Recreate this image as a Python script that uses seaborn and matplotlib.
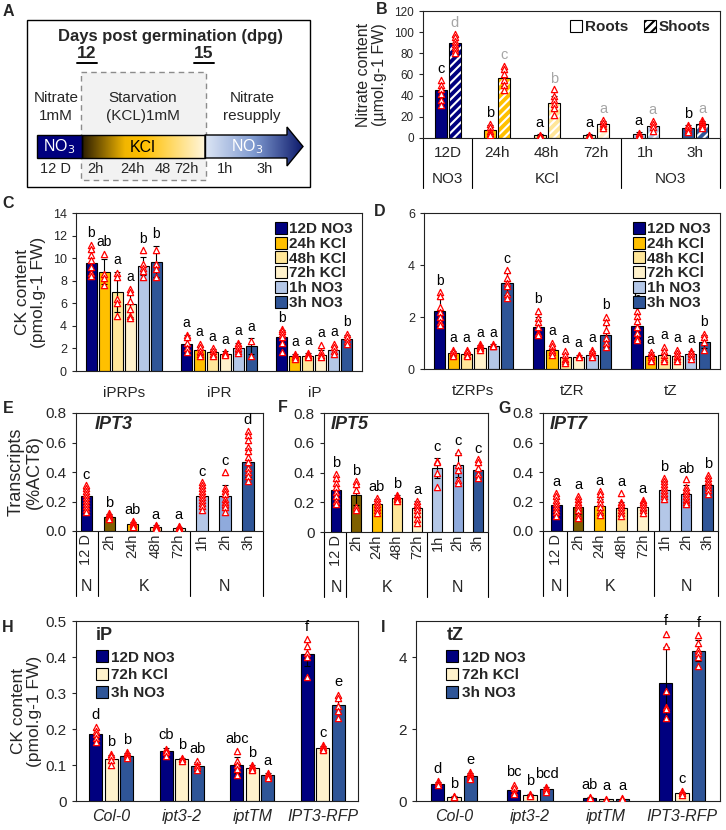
import numpy as np
import pandas as pd
import matplotlib
matplotlib.use('Agg')
import matplotlib.pyplot as plt
import seaborn as sns
from matplotlib.patches import Rectangle, Polygon, Patch
from matplotlib.lines import Line2D
from matplotlib.colors import LinearSegmentedColormap

# condition colours
NAVY = '#00007f'
OLIVE = '#7f6000'
GOLD = '#ffc000'
LYELLOW = '#ffe699'
CREAM = '#fff2cc'
LBLUE = '#b4c7e7'
MBLUE = '#8faadc'
BLUE = '#2f5597'

# ---- A: experimental design
a_title = 'Days post germination (dpg)'
a_days = ['12', '15']
a_phases = ['Nitrate\n1mM', 'Starvation\n(KCL)1mM', 'Nitrate\nresupply']
a_ticks = ['12 D', '2h', '24h', '48', '72h', '1h', '3h']

# ---- B: nitrate content, roots / shoots
b_times = ['12D', '24h', '48h', '72h', '1h', '3h']
b_treat = ['NO3', 'KCl', 'NO3']
b_colors = [NAVY, GOLD, LYELLOW, CREAM, LBLUE, BLUE]
b_root_mean = [45, 8, 3, 3, 3.5, 9]
b_root_err = [7, 4, 1, 1, 2, 3]
b_root_reps = [[55, 50, 46, 42, 36, 31], [13, 10, 7, 5, 3], [3, 2, 1.5, 1],
               [2.5, 1.5, 1], [5, 3, 1, 0.5], [12, 10, 8, 6]]
b_root_letters = ['c', 'b', 'a', 'a', 'a', 'b']
b_shoot_mean = [90, 57, 33, 13, 11, 13]
b_shoot_err = [6, 8, 7, 3, 3, 3]
b_shoot_reps = [[98, 95, 92, 89, 86, 83, 80], [68, 65, 60, 55, 50, 45],
                [46, 40, 36, 32, 28, 22], [17, 14, 11, 9], [16, 13, 10, 7], [17, 15, 13, 11, 9]]
b_shoot_letters = ['d', 'c', 'b', 'a', 'a', 'a']

# ---- C / D: cytokinin content
ck_conds = ['12D NO3', '24h KCl', '48h KCl', '72h KCl', '1h NO3', '3h NO3']
ck_colors = [NAVY, GOLD, LYELLOW, CREAM, LBLUE, BLUE]
c_groups = ['iPRPs', 'iPR', 'iP']
c_mean = [[9.6, 8.8, 7.0, 5.9, 9.3, 9.7],
          [2.4, 1.85, 1.65, 1.55, 2.05, 2.2],
          [3.0, 1.3, 1.35, 1.45, 1.9, 2.8]]
c_err = [[1.0, 1.1, 1.8, 1.1, 0.8, 1.4],
         [0.8, 0.4, 0.3, 0.2, 0.4, 0.7],
         [0.6, 0.2, 0.25, 0.4, 0.3, 0.4]]
c_reps = [[[11.2, 10.8, 10.3, 9.8, 9.2, 8.7, 8.4], [10.4, 8.6, 8.2, 7.6], [8.7, 8.3, 6.4, 6.0, 4.9],
           [7.3, 7.0, 6.2, 5.5, 4.9, 4.7], [10.7, 9.5, 9.1, 8.9, 8.3], [10.7, 9.5, 9.0, 8.3]],
          [[3.2, 3.0, 2.5, 2.0, 1.7], [2.4, 2.1, 1.8, 1.5, 1.3], [2.0, 1.8, 1.5, 1.3],
           [1.7, 1.6, 1.5, 1.4], [2.5, 2.3, 2.0, 1.8, 1.6], [2.7, 1.3]],
          [[3.7, 3.5, 3.3, 3.0, 2.5, 1.7], [1.5, 1.35, 1.2, 1.1], [1.6, 1.4, 1.3, 1.2],
           [2.3, 1.7, 1.4, 1.2], [2.4, 2.1, 1.8, 1.5], [3.3, 3.0, 2.7, 2.4]]]
c_letters = [['b', 'ab', 'a', 'a', 'b', 'b'],
             ['a', 'a', 'a', 'a', 'a', 'a'],
             ['b', 'a', 'a', 'a', 'a', 'b']]

d_groups = ['tZRPs', 'tZR', 'tZ']
d_mean = [[2.25, 0.6, 0.57, 0.82, 0.9, 3.3],
          [1.62, 0.72, 0.45, 0.48, 0.55, 1.3],
          [1.65, 0.5, 0.55, 0.5, 0.58, 1.05]]
d_err = [[0.5, 0.1, 0.1, 0.1, 0.05, 0.45],
         [0.38, 0.15, 0.15, 0.05, 0.15, 0.45],
         [0.45, 0.15, 0.2, 0.15, 0.1, 0.25]]
d_reps = [[[2.95, 2.8, 2.4, 2.2, 2.0, 1.8, 1.7], [0.75, 0.65, 0.55, 0.5], [0.75, 0.65, 0.55, 0.5],
           [0.95, 0.9, 0.85, 0.8, 0.75], [0.95, 0.9, 0.88], [3.8, 3.5, 3.3, 3.2, 2.9, 2.75]],
          [[2.25, 1.95, 1.8, 1.6, 1.4, 1.3], [1.0, 0.9, 0.75, 0.65, 0.55], [0.7, 0.55, 0.4, 0.3, 0.25],
           [0.55, 0.5, 0.45], [0.75, 0.65, 0.55, 0.45], [2.0, 1.8, 1.5, 1.2, 1.0, 0.85]],
          [[2.25, 2.05, 1.85, 1.6, 1.4, 1.2, 1.1], [0.65, 0.55, 0.45, 0.35, 0.3], [0.85, 0.7, 0.55, 0.4, 0.3],
           [0.75, 0.6, 0.5, 0.4, 0.3], [0.7, 0.6, 0.5, 0.4], [1.35, 1.25, 1.05, 0.75]]]
d_letters = [['b', 'a', 'a', 'a', 'a', 'c'],
             ['b', 'a', 'a', 'a', 'a', 'b'],
             ['b', 'a', 'a', 'a', 'a', 'b']]

# ---- E / F / G: IPT transcripts
ipt_labels = ['12 D', '2h', '24h', '48h', '72h', '1h', '2h', '3h']
ipt_groups = ['N', 'K', 'N']
ipt_colors = [NAVY, OLIVE, GOLD, LYELLOW, CREAM, LBLUE, MBLUE, BLUE]

e_mean = [0.235, 0.095, 0.045, 0.03, 0.02, 0.235, 0.235, 0.465]
e_err = [0.05, 0.02, 0.015, 0.01, 0.01, 0.06, 0.08, 0.1]
e_reps = [[0.31, 0.29, 0.27, 0.25, 0.23, 0.21, 0.19, 0.17, 0.15, 0.13],
          [0.12, 0.11, 0.1, 0.09, 0.08],
          [0.07, 0.055, 0.045, 0.035, 0.025],
          [0.04, 0.035, 0.03, 0.025, 0.02, 0.015],
          [0.035, 0.025, 0.02, 0.015, 0.01],
          [0.33, 0.31, 0.29, 0.27, 0.25, 0.23, 0.21, 0.19, 0.17, 0.14],
          [0.4, 0.29, 0.27, 0.25, 0.22, 0.2, 0.18, 0.16, 0.13],
          [0.68, 0.65, 0.62, 0.57, 0.54, 0.5, 0.47, 0.43, 0.4, 0.37, 0.34]]
e_letters = ['c', 'b', 'ab', 'a', 'a', 'c', 'c', 'd']

f_mean = [0.28, 0.25, 0.185, 0.23, 0.16, 0.43, 0.45, 0.42]
f_err = [0.06, 0.07, 0.04, 0.02, 0.05, 0.07, 0.08, 0.05]
f_reps = [[0.39, 0.36, 0.33, 0.3, 0.27, 0.24, 0.21, 0.19],
          [0.34, 0.32, 0.28, 0.17, 0.15],
          [0.23, 0.21, 0.19, 0.17, 0.15, 0.13],
          [0.25, 0.24, 0.23, 0.22, 0.21],
          [0.21, 0.19, 0.17, 0.15, 0.12, 0.09, 0.06],
          [0.48, 0.47, 0.4, 0.3],
          [0.54, 0.45, 0.42, 0.35, 0.33],
          [0.49, 0.47, 0.43, 0.39, 0.36]]
f_letters = ['b', 'b', 'ab', 'b', 'a', 'c', 'c', 'c']

g_mean = [0.175, 0.165, 0.17, 0.155, 0.165, 0.28, 0.25, 0.31]
g_err = [0.05, 0.05, 0.05, 0.045, 0.03, 0.05, 0.06, 0.05]
g_reps = [[0.26, 0.24, 0.21, 0.19, 0.17, 0.15, 0.13, 0.1],
          [0.24, 0.22, 0.2, 0.18, 0.16, 0.14, 0.11, 0.09],
          [0.27, 0.25, 0.22, 0.19, 0.16, 0.13, 0.11],
          [0.26, 0.2, 0.18, 0.16, 0.14, 0.12, 0.1],
          [0.21, 0.2, 0.18, 0.16, 0.14, 0.12],
          [0.36, 0.34, 0.32, 0.3, 0.28, 0.26, 0.24, 0.22],
          [0.35, 0.3, 0.28, 0.26, 0.24, 0.22, 0.2, 0.18],
          [0.38, 0.36, 0.34, 0.32, 0.3, 0.28, 0.25]]
g_letters = ['a', 'a', 'a', 'a', 'a', 'b', 'ab', 'b']

# ---- H / I: mutants
genotypes = ['Col-0', 'ipt3-2', 'iptTM', 'IPT3-RFP']
hi_conds = ['12D NO3', '72h KCl', '3h NO3']
hi_colors = [NAVY, CREAM, BLUE]

h_mean = [[0.185, 0.118, 0.126], [0.138, 0.116, 0.096], [0.101, 0.092, 0.071], [0.409, 0.147, 0.267]]
h_err = [[0.015, 0.01, 0.008], [0.01, 0.004, 0.012], [0.022, 0.008, 0.006], [0.035, 0.005, 0.022]]
h_reps = [[[0.205, 0.195, 0.185, 0.175, 0.165], [0.13, 0.125, 0.115, 0.1], [0.135, 0.13, 0.125, 0.12]],
          [[0.145, 0.14, 0.135, 0.125], [0.12, 0.116, 0.112], [0.11, 0.1, 0.095, 0.085]],
          [[0.138, 0.11, 0.1, 0.09, 0.072], [0.1, 0.095, 0.09, 0.085], [0.077, 0.072, 0.068, 0.065]],
          [[0.45, 0.43, 0.41, 0.4, 0.345], [0.155, 0.15, 0.145, 0.142], [0.295, 0.285, 0.265, 0.25, 0.23]]]
h_letters = [['d', 'b', 'b'], ['cb', 'b', 'ab'], ['abc', 'b', 'a'], ['f', 'c', 'e']]

i_mean = [[0.47, 0.12, 0.7], [0.3, 0.17, 0.32], [0.08, 0.05, 0.05], [3.28, 0.22, 4.18]]
i_err = [[0.05, 0.02, 0.08], [0.08, 0.02, 0.06], [0.02, 0.01, 0.01], [1.0, 0.04, 0.3]]
i_reps = [[[0.55, 0.5, 0.45], [0.14, 0.12, 0.1], [0.8, 0.75, 0.7, 0.65, 0.6]],
          [[0.45, 0.35, 0.25, 0.2], [0.2, 0.18, 0.15], [0.4, 0.35, 0.3, 0.25]],
          [[0.1, 0.07], [0.06, 0.04], [0.07, 0.05]],
          [[4.65, 4.3, 3.05, 2.6, 2.55, 2.3], [0.28, 0.22, 0.18], [4.6, 4.4, 4.2, 4.1, 4.0, 3.75]]]
i_letters = [['d', 'b', 'e'], ['bc', 'b', 'bcd'], ['ab', 'a', 'a'], ['f', 'c', 'f']]

W, H = 726, 830


def box(l, t, r, b):
    # pixel box -> figure fraction
    return [l / W, 1 - b / H, (r - l) / W, (b - t) / H]


def draw_set(ax, xs, means, errs, reps, letters, colors, width, ymax,
             lcolor='black', lsize=10, msize=4.5):
    xs = [float(x) for x in xs]
    keys = [f'k{i}' for i in range(len(xs))]
    df = pd.DataFrame({'x': xs, 'y': means, 'k': keys})
    uniq = np.unique(xs)
    step = np.min(np.diff(uniq)) if len(uniq) > 1 else 1.0
    n0 = len(ax.patches)
    sns.barplot(data=df, x='x', y='y', hue='k', palette=dict(zip(keys, colors)), dodge=False,
                native_scale=True, orient='x', saturation=1, width=width / step,
                errorbar=None, edgecolor='black', linewidth=0.8, legend=False, ax=ax, zorder=2)
    bars = ax.patches[n0:]
    ax.errorbar(xs, means, yerr=errs, fmt='none', ecolor='black', elinewidth=0.8,
                capsize=2.5, capthick=0.8, zorder=3)
    pts = pd.DataFrame({'x': [x for x, r in zip(xs, reps) for _ in r],
                        'v': [v for r in reps for v in r]})
    sns.stripplot(data=pts, x='x', y='v', native_scale=True, orient='x', jitter=False,
                  marker='^', color='white', edgecolor='red', linewidth=0.9, size=msize,
                  ax=ax, zorder=4)
    for x, m, e, r, t in zip(xs, means, errs, reps, letters):
        top = max(m + e, max(r))
        ax.text(x, top + 0.03 * ymax, t, ha='center', va='bottom', fontsize=lsize, color=lcolor)
    return bars


def style(ax, ymax, yticks, ylabels, fs):
    ax.set_ylim(0, ymax)
    ax.set_yticks(yticks, ylabels)
    ax.tick_params(axis='y', labelsize=fs, length=3, width=0.8, left=True)
    ax.tick_params(axis='x', length=0)
    ax.set_xlabel('')
    ax.set_ylabel('')
    for s in ax.spines.values():
        s.set_visible(True)
        s.set_color('#222222')
        s.set_linewidth(0.8)


def flat(a):
    return [v for row in a for v in row]


sns.set_theme(style='ticks')
plt.rcParams['font.family'] = ['Liberation Sans', 'DejaVu Sans']
plt.rcParams['hatch.linewidth'] = 1.5

fig = plt.figure(figsize=(W / 100, H / 100), dpi=100)
fig.patch.set_facecolor('white')

# ================= A
axA = fig.add_axes(box(0, 0, 330, 195))
axA.axis('off')
axA.add_patch(Rectangle((27, 20), 283, 167, fill=False, ec='black', lw=1))
axA.add_patch(Rectangle((81, 72), 125, 108, fc='#f2f2f2', ec='#8c8c8c', ls=(0, (4, 3)), lw=1))
axA.text(170, 37, a_title, ha='center', va='center', fontsize=12, fontweight='bold')
for x, t in zip([87, 204], a_days):
    axA.text(x, 54, t, ha='center', va='center', fontsize=12.5, fontweight='bold')
    axA.plot([x - 10, x + 10], [63, 63], color='black', lw=1.4)
for x, t in zip([56, 143, 252], a_phases):
    axA.text(x, 107, t, ha='center', va='center', fontsize=11, linespacing=1.35)
grad = np.linspace(0, 1, 256)[None, :]
kcl_cmap = LinearSegmentedColormap.from_list(
    'kcl', [(0, '#2a1c00'), (0.35, '#f2b600'), (0.5, '#ffc000'), (1, '#fff6dc')])
blue_cmap = LinearSegmentedColormap.from_list(
    'nb', [(0, '#dde6f5'), (0.5, '#7f9ad0'), (1, '#0d1a6b')])
axA.add_patch(Rectangle((37, 135), 45, 23, fc=NAVY, ec='black', lw=1, zorder=3))
axA.imshow(grad, extent=(82, 205, 158, 135), cmap=kcl_cmap, aspect='auto', zorder=2)
axA.add_patch(Rectangle((82, 135), 123, 23, fill=False, ec='black', lw=1, zorder=3))
arrow = Polygon([(205, 135), (287, 135), (287, 127), (303, 146.5), (287, 166), (287, 158), (205, 158)],
                closed=True, fc='none', ec='black', lw=1, zorder=3)
axA.add_patch(arrow)
im = axA.imshow(grad, extent=(205, 303, 166, 127), cmap=blue_cmap, aspect='auto', zorder=2)
im.set_clip_path(arrow)
axA.text(59, 147, 'NO$_3$', color='white', ha='center', va='center', fontsize=11.5, zorder=4)
axA.text(143, 147, 'KCl', color='black', ha='center', va='center', fontsize=11.5, zorder=4)
axA.text(247, 147, 'NO$_3$', color='white', ha='center', va='center', fontsize=11.5, zorder=4)
for x, t in zip([56, 95, 132, 163, 186, 225, 265], a_ticks):
    axA.text(x, 169, t, ha='center', va='center', fontsize=10.5)
axA.set_xlim(0, 330)
axA.set_ylim(195, 0)

# ================= B
axB = fig.add_axes(box(423, 11, 720, 138))
bx = np.arange(len(b_times))
draw_set(axB, bx - 0.145, b_root_mean, b_root_err, b_root_reps, b_root_letters,
         b_colors, 0.24, 120, lsize=10.5)
shoot_bars = draw_set(axB, bx + 0.145, b_shoot_mean, b_shoot_err, b_shoot_reps, b_shoot_letters,
                      b_colors, 0.24, 120, lcolor='#a6a6a6', lsize=10.5)
for p in shoot_bars:
    p.set_hatch('////')
    p.set_edgecolor('white')
    p.set_linewidth(0)
axB.bar(bx + 0.145, b_shoot_mean, width=0.24, fill=False, edgecolor='black', linewidth=0.8, zorder=2.5)
style(axB, 120, range(0, 121, 20), [str(v) for v in range(0, 121, 20)], 8.5)
axB.set_xlim(-0.5, 5.5)
axB.set_xticks([])
axB.set_ylabel('Nitrate content\n(µmol.g-1 FW)', fontsize=11.5, linespacing=1.1)
axB.yaxis.set_label_coords(-0.12, 0.5)
tB = axB.get_xaxis_transform()
for x, t in zip(bx, b_times):
    axB.text(x, -0.12, t, transform=tB, ha='center', va='center', fontsize=11)
for x, t in zip([0, 2, 4.5], b_treat):
    axB.text(x, -0.32, t, transform=tB, ha='center', va='center', fontsize=11)
for x in [-0.5, 0.5, 3.5, 5.5]:
    axB.plot([x, x], [0, -0.39], transform=tB, color='black', lw=0.8, clip_on=False)
axB.legend(handles=[Patch(fc='white', ec='black', lw=0.8, label='Roots'),
                    Patch(fc='white', ec='black', lw=0.8, hatch='////', label='Shoots')],
           loc='upper right', ncol=2, frameon=False, prop={'weight': 'bold', 'size': 11},
           handlelength=0.8, handleheight=0.8, handletextpad=0.2, columnspacing=1.0,
           borderaxespad=0.2)


# ================= C / D
def ck_panel(ax, groups, mean, err, reps, letters, ymax, yticks, ylabels):
    nb = len(ck_conds)
    step = 0.136
    xs = [g + (i - (nb - 1) / 2) * step for g in range(len(groups)) for i in range(nb)]
    draw_set(ax, xs, flat(mean), flat(err), flat(reps), flat(letters),
             ck_colors * len(groups), 0.115, ymax, lsize=10)
    style(ax, ymax, yticks, ylabels, 9)
    ax.set_xlim(-0.5, 2.5)
    ax.set_xticks(range(len(groups)), groups, fontsize=11)
    ax.tick_params(axis='x', pad=11)
    handles = [Line2D([], [], ls='', marker='s', markersize=8, markerfacecolor=c,
                      markeredgecolor='black', markeredgewidth=0.8, label=l)
               for c, l in zip(ck_colors, ck_conds)]
    ax.legend(handles=handles, loc='upper right', frameon=False,
              prop={'weight': 'bold', 'size': 11}, handlelength=0.7, handletextpad=0.2,
              labelspacing=0.05, borderaxespad=0.2)


axC = fig.add_axes(box(76, 213, 362, 371))
ck_panel(axC, c_groups, c_mean, c_err, c_reps, c_letters, 14, range(0, 15, 2),
         [str(v) for v in range(0, 15, 2)])
axC.set_ylabel('CK content\n(pmol.g-1 FW)', fontsize=12.5, linespacing=1.1)
axC.yaxis.set_label_coords(-0.105, 0.5)

axD = fig.add_axes(box(424, 213, 720, 369))
ck_panel(axD, d_groups, d_mean, d_err, d_reps, d_letters, 6, [0, 2, 4, 6], ['0', '2', '4', '6'])


# ================= E / F / G
def ipt_panel(ax, mean, err, reps, letters, xlim, ylabels, title, tx):
    xs = np.arange(len(ipt_labels))
    draw_set(ax, xs, mean, err, reps, letters, ipt_colors, 0.5, 0.8, lsize=10.5)
    style(ax, 0.8, [0, 0.2, 0.4, 0.6, 0.8], ylabels, 11)
    ax.set_xlim(*xlim)
    ax.set_xticks(xs, ipt_labels, rotation=90, fontsize=10.5)
    ax.tick_params(axis='x', pad=2)
    ax.text(tx, 0.9, title, transform=ax.transAxes, fontsize=13, fontweight='bold',
            fontstyle='italic', va='center')
    tr = ax.get_xaxis_transform()
    for x, t in zip([0, 2.5, 6], ipt_groups):
        ax.text(x, -0.47, t, transform=tr, ha='center', va='center', fontsize=11.5)
    for x in [xlim[0], 0.5, 4.5, xlim[1]]:
        ax.plot([x, x], [0, -0.55], transform=tr, color='black', lw=0.8, clip_on=False)


axE = fig.add_axes(box(76, 413, 263, 531))
ipt_panel(axE, e_mean, e_err, e_reps, e_letters, (-0.45, 7.65),
          ['0.0', '0.2', '0.4', '0.6', '0.8'], 'IPT3', 0.1)
axE.set_ylabel('Transcripts\n(%ACT8)', fontsize=13, linespacing=1.1)
axE.yaxis.set_label_coords(-0.175, 0.5)

axF = fig.add_axes(box(324, 413, 488, 532))
ipt_panel(axF, f_mean, f_err, f_reps, f_letters, (-0.6, 7.5),
          ['0', '0.2', '0.4', '0.6', '0.8'], 'IPT5', 0.04)

axG = fig.add_axes(box(543, 413, 718, 531))
ipt_panel(axG, g_mean, g_err, g_reps, g_letters, (-0.62, 7.48),
          ['0.0', '0.2', '0.4', '0.6', '0.8'], 'IPT7', 0.04)


# ================= H / I
def geno_panel(ax, mean, err, reps, letters, ymax, yticks, ylabels, title, step, width, lx):
    nb = len(hi_conds)
    xs = [g + (i - 1) * step for g in range(len(genotypes)) for i in range(nb)]
    draw_set(ax, xs, flat(mean), flat(err), flat(reps), flat(letters),
             hi_colors * len(genotypes), width, ymax, lsize=10.5)
    style(ax, ymax, yticks, ylabels, 11)
    ax.set_xlim(-0.5, 3.5)
    ax.set_xticks(range(len(genotypes)), genotypes, fontsize=11.5, fontstyle='italic')
    ax.tick_params(axis='x', pad=6)
    ax.text(lx + 0.02, 0.92, title, transform=ax.transAxes, fontsize=13, fontweight='bold',
            va='center')
    handles = [Line2D([], [], ls='', marker='s', markersize=8, markerfacecolor=c,
                      markeredgecolor='black', markeredgewidth=0.8, label=l)
               for c, l in zip(hi_colors, hi_conds)]
    ax.legend(handles=handles, loc='upper left', bbox_to_anchor=(lx, 0.87), frameon=False,
              prop={'weight': 'bold', 'size': 11}, handlelength=0.7, handletextpad=0.3,
              labelspacing=0.25, borderaxespad=0)


axH = fig.add_axes(box(76, 621, 358, 801))
geno_panel(axH, h_mean, h_err, h_reps, h_letters, 0.5, [0, 0.1, 0.2, 0.3, 0.4, 0.5],
           ['0', '0.1', '0.2', '0.3', '0.4', '0.5'], 'iP', 0.22, 0.19, 0.05)
axH.set_ylabel('CK content\n(pmol.g-1 FW)', fontsize=12.5, linespacing=1.1)
axH.yaxis.set_label_coords(-0.12, 0.5)

axI = fig.add_axes(box(416, 621, 720, 801))
geno_panel(axI, i_mean, i_err, i_reps, i_letters, 5, [0, 2, 4], ['0', '2', '4'],
           'tZ', 0.217, 0.176, 0.08)

# panel letters
for x, y, t in [(8, 12, 'A'), (382, 10, 'B'), (8, 203, 'C'), (380, 212, 'D'), (8, 408, 'E'),
                (283, 407, 'F'), (505, 408, 'G'), (8, 627, 'H'), (383, 627, 'I')]:
    fig.text(x / W, 1 - y / H, t, fontsize=11.5, fontweight='bold', va='center', ha='center')

fig.savefig('out.png', dpi=100, facecolor='white')
